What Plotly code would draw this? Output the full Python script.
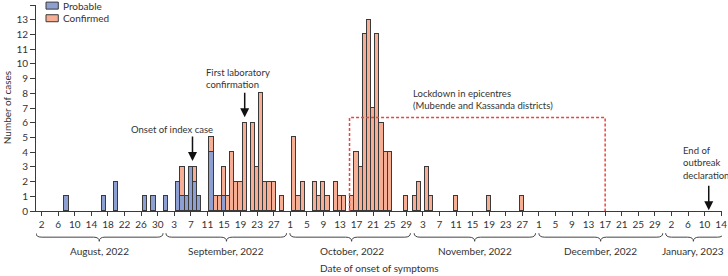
import pandas as pd
import plotly.graph_objects as go

# ---------------- data ----------------
# Daily axis categories (the original axis skips 1 Nov 2022)
all_days = [d.strftime("%Y-%m-%d") for d in pd.date_range("2022-08-02", "2023-01-14")]
categories = [d for d in all_days if d != "2022-11-01"]

TICK_LABELS = ["2", "6", "10", "14", "18", "22", "26", "30",
               "3", "7", "11", "15", "19", "23", "27",
               "1", "5", "9", "13", "17", "21", "25", "29",
               "3", "7", "11", "15", "19", "23", "27",
               "1", "5", "9", "13", "17", "21", "25", "29",
               "2", "6", "10", "14"]

probable_dates = ["2022-08-08", "2022-08-17", "2022-08-20", "2022-08-27", "2022-08-29",
                  "2022-09-01", "2022-09-04", "2022-09-05", "2022-09-06", "2022-09-07",
                  "2022-09-08", "2022-09-09", "2022-09-12", "2022-09-15"]
probable_cases = [1, 1, 2, 1, 1, 1, 2, 1, 1, 3, 2, 1, 4, 1]

confirmed_dates = ["2022-09-05", "2022-09-08", "2022-09-12", "2022-09-13", "2022-09-14",
                   "2022-09-15", "2022-09-16", "2022-09-17", "2022-09-18", "2022-09-19",
                   "2022-09-20", "2022-09-22", "2022-09-23", "2022-09-24", "2022-09-25",
                   "2022-09-26", "2022-09-27", "2022-09-29",
                   "2022-10-02", "2022-10-03", "2022-10-04", "2022-10-07", "2022-10-08",
                   "2022-10-09", "2022-10-10", "2022-10-12", "2022-10-13", "2022-10-14",
                   "2022-10-16", "2022-10-17", "2022-10-18", "2022-10-19", "2022-10-20",
                   "2022-10-21", "2022-10-22", "2022-10-23", "2022-10-24", "2022-10-25",
                   "2022-10-29", "2022-10-31", "2022-11-02", "2022-11-04", "2022-11-05",
                   "2022-11-11", "2022-11-19", "2022-11-27"]
confirmed_cases = [2, 1, 1, 1, 1,
                   2, 1, 4, 2, 2,
                   6, 6, 3, 8, 2,
                   2, 2, 1,
                   5, 1, 2, 2, 1,
                   2, 1, 2, 1, 1,
                   1, 4, 3, 12, 13,
                   7, 12, 6, 4, 4,
                   1, 1, 2, 3, 1,
                   1, 1, 1]

MONTH_LABELS = ["August, 2022", "September, 2022", "October, 2022",
                "November, 2022", "December, 2022", "January, 2023"]
SERIES_NAMES = ["Probable", "Confirmed"]

# ---------------- styling ----------------
FONT = "Lato"
TXT = "#333333"
BLUE = "#8E9FD1"
SALMON = "#F6AE94"
EDGE = "#3a3a3a"
RED = "#E8473F"
COLORS = [BLUE, SALMON]

def idx(day):
    return categories.index(day)

fig = go.Figure()
fig.add_trace(go.Bar(x=probable_dates, y=probable_cases, name=SERIES_NAMES[0],
                     showlegend=False,
                     marker=dict(color=BLUE, line=dict(color=EDGE, width=1))))
fig.add_trace(go.Bar(x=confirmed_dates, y=confirmed_cases, name=SERIES_NAMES[1],
                     showlegend=False,
                     marker=dict(color=SALMON, line=dict(color=EDGE, width=1))))

shapes = []
annotations = []

# compact legend (key boxes + labels)
for i, (nm, col) in enumerate(zip(SERIES_NAMES, COLORS)):
    y_top = 1.014 - i * 0.0612
    shapes.append(dict(type="rect", xref="paper", yref="paper",
                       x0=0.0146, x1=0.0325, y0=y_top - 0.034, y1=y_top,
                       fillcolor=col, line=dict(color=EDGE, width=1)))
    annotations.append(dict(x=0.0364, y=y_top - 0.017, xref="paper", yref="paper",
                            text=nm, showarrow=False, xanchor="left", yanchor="middle",
                            font=dict(size=10, color=TXT, family=FONT)))

# lockdown box (Oct 15 .. Dec 17)
lx0, lx1, ly = idx("2022-10-15") + 0.3, idx("2022-12-17"), 6.35
shapes.append(dict(type="path", xref="x", yref="y",
                   path=f"M{lx0},0 L{lx0},{ly} L{lx1},{ly} L{lx1},0",
                   line=dict(color=RED, width=1.5, dash="3px,2px")))

# month braces
brace_spans = [(-1.37, 29.3, 13.9), (30.0, 59.1, 44.6), (59.9, 89.0, 74.8),
               (89.9, 119.2, 104.5), (120.0, 149.9, 134.9), (150.6, 164.5, 157.3)]
yA, yB, yC = -0.108, -0.127, -0.147
d = 1.4
for (a, b, c) in brace_spans:
    p = (f"M{a},{yA} Q{a},{yB} {a+d},{yB} L{c-d},{yB} Q{c},{yB} {c},{yC} "
         f"Q{c},{yB} {c+d},{yB} L{b-d},{yB} Q{b},{yB} {b},{yA}")
    shapes.append(dict(type="path", xref="x", yref="paper", path=p,
                       line=dict(color="#444444", width=1)))

for lab, (a, b, c) in zip(MONTH_LABELS, brace_spans):
    annotations.append(dict(x=c, y=-0.192, xref="x", yref="paper", text=lab,
                            showarrow=False, xanchor="center", yanchor="middle",
                            font=dict(size=10, color=TXT, family=FONT)))

annotations.append(dict(x=0.5, y=-0.278, xref="paper", yref="paper",
                        text="Date of onset of symptoms", showarrow=False,
                        xanchor="center", yanchor="middle",
                        font=dict(size=10, color=TXT, family=FONT)))
annotations.append(dict(x=-0.042, y=0.5, xref="paper", yref="paper",
                        text="Number of cases", showarrow=False, textangle=-90,
                        xanchor="center", yanchor="middle",
                        font=dict(size=10, color=TXT, family=FONT)))

# event annotations
ARW = dict(showarrow=True, arrowhead=2, arrowsize=1.2, arrowwidth=1.5,
           arrowcolor="#111111", ax=0, text="", xref="x", yref="y")
annotations.append(dict(ARW, x=idx("2022-09-07") + 0.4, y=3.4, ay=-26))
annotations.append(dict(ARW, x=idx("2022-09-20"), y=6.37, ay=-26))
annotations.append(dict(ARW, x=idx("2023-01-11"), y=0.05, ay=-26))

TF = dict(size=9.5, color=TXT, family=FONT)
annotations.append(dict(x=31.4, y=5.56, xref="x", yref="y", text="Onset of index case",
                        showarrow=False, xanchor="center", yanchor="middle", font=TF))
annotations.append(dict(x=39.2, y=8.98, xref="x", yref="y",
                        text="First laboratory<br>confirmation", align="left",
                        showarrow=False, xanchor="left", yanchor="middle", font=TF))
annotations.append(dict(x=89.2, y=7.55, xref="x", yref="y",
                        text="Lockdown in epicentres<br>(Mubende and Kassanda districts)",
                        align="left", showarrow=False, xanchor="left", yanchor="middle",
                        font=TF))
annotations.append(dict(x=154.2, y=3.29, xref="x", yref="y",
                        text="End of<br>outbreak<br>declaration", align="left",
                        showarrow=False, xanchor="left", yanchor="middle", font=TF))

fig.update_layout(
    width=728, height=276,
    margin=dict(l=36, r=6, t=5, b=65, autoexpand=False),
    paper_bgcolor="white", plot_bgcolor="white",
    barmode="stack", bargap=0,
    font=dict(family=FONT, size=10, color=TXT),
    shapes=shapes, annotations=annotations,
    showlegend=False,
    xaxis=dict(type="category", categoryorder="array", categoryarray=categories,
               range=[-1.37, 164.2], tickmode="array",
               tickvals=categories[::4], ticktext=TICK_LABELS,
               ticks="outside", ticklen=4, tickcolor=EDGE, tickwidth=1,
               showline=True, linecolor=EDGE, linewidth=1, showgrid=False,
               tickangle=0, tickfont=dict(size=10, color=TXT, family=FONT)),
    yaxis=dict(range=[0, 14], dtick=1, ticks="outside", ticklen=5, tickcolor=EDGE,
               tickwidth=1, showline=True, linecolor=EDGE, linewidth=1,
               showgrid=False, zeroline=False,
               tickfont=dict(size=10, color=TXT, family=FONT)),
)

fig.write_html("out.html", config={"displayModeBar": False},
               post_script="document.body.style.margin='0';")
